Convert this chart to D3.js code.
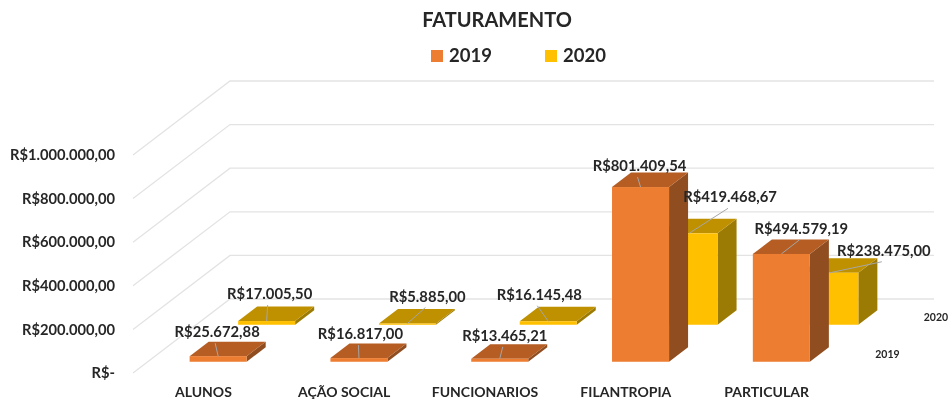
<!DOCTYPE html>
<html lang="pt-BR">
<head>
<meta charset="utf-8">
<title>Faturamento</title>
<script src="https://cdn.jsdelivr.net/npm/d3@7"></script>
<style>
  html, body { margin: 0; padding: 0; background: #fff; }
  svg { display: block; font-family: Lato, "Open Sans", sans-serif; font-weight: 700; filter: blur(0.45px); }
  text { fill: #262626; }
  .grid { fill: none; stroke: #e3e3e3; stroke-width: 1.3; }
  .leader { stroke: #a6a6a6; stroke-width: 1; }
  .axis .domain, .axis .tick line { display: none; }
  .axis text { font-family: Lato, "Open Sans", sans-serif; font-weight: 700; fill: #262626; }
</style>
</head>
<body>
<svg id="chart" width="949" height="400"></svg>
<script>
const categories = ['ALUNOS', 'AÇÃO SOCIAL', 'FUNCIONARIOS', 'FILANTROPIA', 'PARTICULAR'];
const seriesNames = ['2019', '2020'];
const values2019 = [25672.88, 16817.0, 13465.21, 801409.54, 494579.19];
const values2020 = [17005.5, 5885.0, 16145.48, 419468.67, 238475.0];
const yTicks = [0, 200000, 400000, 600000, 800000, 1000000];

const width = 949;
const height = 400;
const front = { left: 133, right: 837, bottom: 373, top: 155 };
const skew = { x: 97, y: 74 }; // how far the full chart depth shifts things on screen

// label position relative to the front-top centre of its bar
const labelShift2019 = [[-1, -24], [1.5, -24], [5, -23], [-1, -21], [20, -25]];
const labelShift2020 = [[3, -27], [20, -27], [-9, -26.5], [41, -36], [54, -22]];

const colors = {
  2019: { front: '#ed7d31', top: '#b55d22', side: '#8f4d20' },
  2020: { front: '#ffc000', top: '#bf9000', side: '#9c7b05' },
};

const brl = d3.formatLocale({ decimal: ',', thousands: '.', grouping: [3], currency: ['R$', ''] }).format('$,.2f');

const xScale = d3.scaleBand().domain(categories).range([front.left, front.right]).paddingInner(0.595).paddingOuter(0.2975);
const yScale = d3.scaleLinear().domain([0, 1000000]).range([front.bottom, front.top]);
const zScale = d3.scaleBand().domain(seriesNames).range([0, 1]).paddingInner(0.608).paddingOuter(0.304);

// screen position of a point on the value plane at depth z (0 front, 1 back)
const px = (x, z) => x + z * skew.x;
const py = (v, z) => yScale(v) - z * skew.y;

const svg = d3.select('#chart');

// grid: front-left wall edge then along the back wall
const gridLine = d3.line();
svg.append('g')
  .selectAll('path')
  .data(yTicks)
  .join('path')
  .attr('class', 'grid')
  .attr('d', (d) => gridLine([
    [px(front.left, 0), py(d, 0)],
    [px(front.left, 1), py(d, 1)],
    [px(front.right, 1), py(d, 1)],
  ]));

function drawBars(name, vals) {
  const c = colors[name];
  const z0 = zScale(name);
  const z1 = z0 + zScale.bandwidth();
  const w = xScale.bandwidth();
  const rows = categories.map((cat, i) => ({ cat, v: vals[i] }));
  const g = svg.append('g').attr('class', `bars-${name}`);

  const poly = (pts) => pts.map((p) => p.join(',')).join(' ');

  const bar = g.selectAll('g').data(rows).join('g');

  bar.append('polygon')
    .attr('fill', c.side)
    .attr('points', (d) => {
      const x1 = xScale(d.cat) + w;
      return poly([
        [px(x1, z0), py(0, z0)], [px(x1, z1), py(0, z1)],
        [px(x1, z1), py(d.v, z1)], [px(x1, z0), py(d.v, z0)],
      ]);
    });

  bar.append('polygon')
    .attr('fill', c.top)
    .attr('points', (d) => {
      const x0 = xScale(d.cat);
      return poly([
        [px(x0, z0), py(d.v, z0)], [px(x0 + w, z0), py(d.v, z0)],
        [px(x0 + w, z1), py(d.v, z1)], [px(x0, z1), py(d.v, z1)],
      ]);
    });

  bar.append('rect')
    .attr('fill', c.front)
    .attr('x', (d) => px(xScale(d.cat), z0))
    .attr('y', (d) => py(d.v, z0))
    .attr('width', w)
    .attr('height', (d) => py(0, z0) - py(d.v, z0));
}

drawBars('2020', values2020);
drawBars('2019', values2019);

function drawLabels(name, vals, shifts) {
  const z0 = zScale(name);
  const rows = categories.map((cat, i) => {
    const ax = px(xScale(cat) + xScale.bandwidth() / 2, z0);
    const ay = py(vals[i], z0);
    return { v: vals[i], ax, ay, lx: ax + shifts[i][0], ly: ay + shifts[i][1] };
  });
  const g = svg.append('g');

  g.selectAll('line')
    .data(rows)
    .join('line')
    .attr('class', 'leader')
    .attr('x1', (d) => d.ax)
    .attr('y1', (d) => d.ay)
    .attr('x2', (d) => d.lx - 2)
    .attr('y2', (d) => d.ly + 11);

  g.selectAll('text')
    .data(rows)
    .join('text')
    .attr('x', (d) => d.lx)
    .attr('y', (d) => d.ly)
    .attr('dy', '0.35em')
    .attr('text-anchor', 'middle')
    .attr('font-size', 14.8)
    .text((d) => brl(d.v));
}

drawLabels('2020', values2020, labelShift2020);
drawLabels('2019', values2019, labelShift2019);

// value axis, sits just left of the front wall
svg.append('g')
  .attr('class', 'axis')
  .attr('transform', `translate(${front.left - 18},0)`)
  .call(d3.axisLeft(yScale).tickValues(yTicks).tickSize(0).tickPadding(0).tickFormat((d) => (d === 0 ? 'R$-' : brl(d))))
  .call((g) => g.selectAll('text').attr('font-size', 14.7));

// category axis
svg.append('g')
  .attr('class', 'axis')
  .attr('transform', 'translate(0,387.5)')
  .call(d3.axisBottom(xScale).tickSize(0).tickPadding(0))
  .call((g) => g.selectAll('text').attr('font-size', 14));

// depth axis labels
svg.append('g')
  .selectAll('text')
  .data(seriesNames)
  .join('text')
  .attr('x', (d) => px(front.right, zScale(d) + zScale.bandwidth() / 2) + 14)
  .attr('y', (d) => py(0, zScale(d) + zScale.bandwidth() / 2))
  .attr('dy', '0.35em')
  .attr('font-size', 10.5)
  .text((d) => d);

svg.append('text')
  .attr('x', 497)
  .attr('y', 20)
  .attr('dy', '0.35em')
  .attr('text-anchor', 'middle')
  .attr('font-size', 20)
  .text('FATURAMENTO');

// legend
const legendX = d3.scaleOrdinal().domain(seriesNames).range([431, 545]);
const legend = svg.append('g')
  .selectAll('g')
  .data(seriesNames)
  .join('g')
  .attr('transform', (d) => `translate(${legendX(d)},50)`);

legend.append('rect')
  .attr('width', 12)
  .attr('height', 12)
  .attr('fill', (d) => colors[d].front);

legend.append('text')
  .attr('x', 18)
  .attr('y', 6)
  .attr('dy', '0.35em')
  .attr('font-size', 18.5)
  .text((d) => d);
</script>
</body>
</html>
